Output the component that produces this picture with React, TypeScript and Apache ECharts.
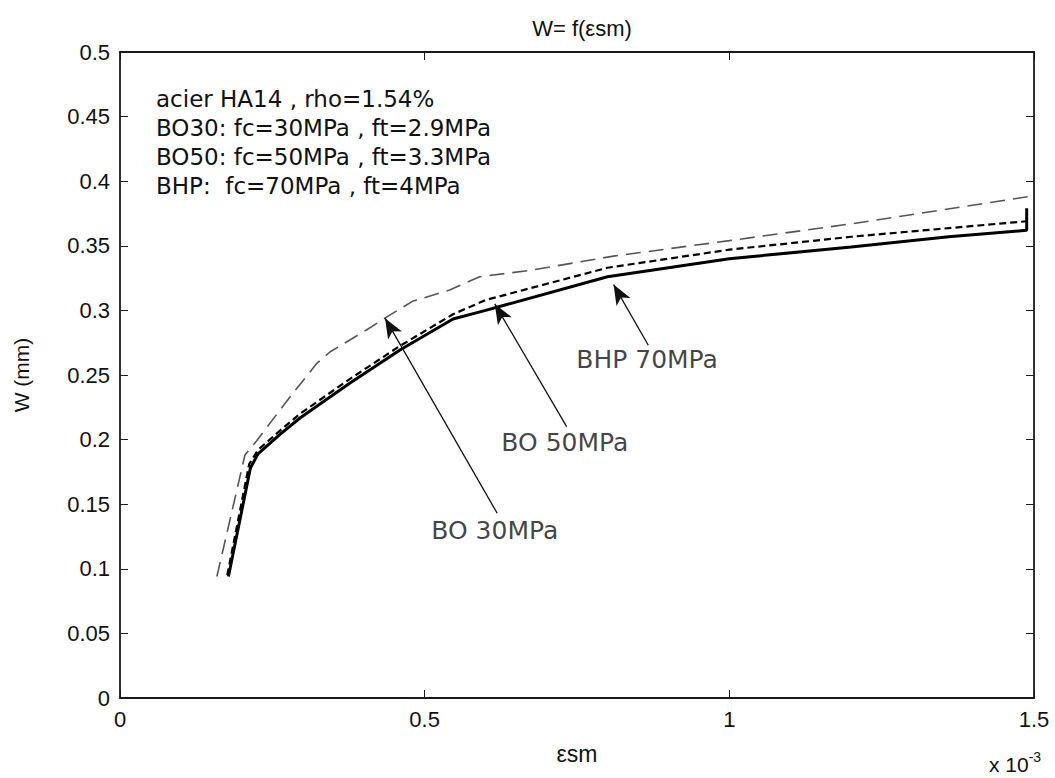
import React, { useEffect, useRef } from 'react';
import * as echarts from 'echarts';

// strain values are in units of 1e-3
const bo30X = [0.178, 0.214, 0.2265, 0.2626, 0.2954, 0.3775, 0.4595, 0.5465, 0.60, 0.80, 1.0, 1.2, 1.36, 1.488, 1.488];
const bo30Y = [0.094, 0.178, 0.189, 0.204, 0.2167, 0.2438, 0.2693, 0.2933, 0.300, 0.326, 0.340, 0.349, 0.357, 0.362, 0.379];

const bo50X = [0.176, 0.212, 0.2265, 0.2626, 0.2954, 0.3775, 0.4595, 0.5465, 0.60, 0.80, 1.0, 1.2, 1.488];
const bo50Y = [0.095, 0.181, 0.192, 0.207, 0.220, 0.247, 0.2725, 0.297, 0.308, 0.333, 0.347, 0.357, 0.369];

const bhpX = [0.159, 0.205, 0.224, 0.279, 0.323, 0.345, 0.405, 0.438, 0.48, 0.542, 0.59, 0.673, 0.81, 1.0, 1.2, 1.49];
const bhpY = [0.094, 0.188, 0.199, 0.233, 0.259, 0.268, 0.285, 0.295, 0.307, 0.316, 0.326, 0.331, 0.342, 0.354, 0.367, 0.388];

// annotation arrows: [fromX, fromY, tipX, tipY]
const arrowBO30 = [0.619, 0.143, 0.435, 0.294];
const arrowBO50 = [0.733, 0.210, 0.615, 0.305];
const arrowBHP = [0.867, 0.273, 0.81, 0.320];

const annotationLabels = ['BO 30MPa', 'BO 50MPa', 'BHP 70MPa'];
const annotationPos = [[0.615, 0.130], [0.730, 0.198], [0.865, 0.262]];

const infoLines = [
  'acier HA14 , rho=1.54%',
  'BO30: fc=30MPa , ft=2.9MPa',
  'BO50: fc=50MPa , ft=3.3MPa',
  'BHP:  fc=70MPa , ft=4MPa',
];

const titleText = 'W= f(εsm)';
const xName = 'εsm';
const yName = 'W (mm)';

const zip = (xs: number[], ys: number[]) => xs.map((x, i) => [x, ys[i]]);

const FONT = '"Liberation Sans", Arial, sans-serif';
const TFONT = '"DejaVu Sans", sans-serif';
const AX = '#1a1a1a';

export default function App() {
  const ref = useRef<HTMLDivElement>(null);
  useEffect(() => {
    if (!ref.current) return;
    const chart = echarts.init(ref.current, null, { renderer: 'svg' });
    const arrowData = [arrowBO30, arrowBO50, arrowBHP].map((a) => [
      { coord: [a[0], a[1]] },
      { coord: [a[2], a[3]] },
    ]);
    const axisCommonX = {
      type: 'value' as const,
      min: 0,
      max: 1.5,
      interval: 0.5,
      splitLine: { show: false },
      axisLine: { show: true, onZero: false, lineStyle: { color: AX, width: 1.8 } },
      axisTick: { show: true, inside: true, length: 8, lineStyle: { color: AX, width: 1 } },
    };
    const axisCommonY = {
      type: 'value' as const,
      min: 0,
      max: 0.5,
      interval: 0.05,
      splitLine: { show: false },
      axisLine: { show: true, onZero: false, lineStyle: { color: AX, width: 1.8 } },
      axisTick: { show: true, inside: true, length: 8, lineStyle: { color: AX, width: 1 } },
    };
    chart.setOption({
      animation: false,
      backgroundColor: '#fff',
      title: {
        text: titleText,
        left: 577,
        top: 12,
        textAlign: 'center',
        textStyle: { fontFamily: FONT, fontSize: 22, fontWeight: 'normal', color: '#111' },
      },
      grid: { left: 120, right: 21, top: 52, bottom: 80, containLabel: false },
      xAxis: [
        {
          ...axisCommonX,
          position: 'bottom',
          axisLabel: { fontFamily: FONT, fontSize: 22, color: '#111', margin: 10 },
          name: xName,
          nameLocation: 'middle',
          nameGap: 44,
          nameTextStyle: { fontFamily: FONT, fontSize: 23, color: '#111' },
        },
        { ...axisCommonX, position: 'top', axisLabel: { show: false } },
      ],
      yAxis: [
        {
          ...axisCommonY,
          position: 'left',
          axisLabel: { fontFamily: FONT, fontSize: 22, color: '#111', margin: 10 },
          name: yName,
          nameLocation: 'middle',
          nameGap: 88,
          nameRotate: 90,
          nameTextStyle: { fontFamily: FONT, fontSize: 21, color: '#111' },
        },
        { ...axisCommonY, position: 'right', axisLabel: { show: false } },
      ],
      graphic: [
        ...infoLines.map((t, i) => ({
          type: 'text',
          left: 156,
          top: 87 + i * 29,
          style: { text: t, fontFamily: TFONT, fontSize: 23, fill: '#111' },
        })),
        {
          type: 'text',
          left: 989,
          top: 750,
          style: {
            text: 'x 10{sup|-3}',
            fontFamily: FONT,
            fontSize: 21,
            fill: '#111',
            rich: { sup: { fontFamily: FONT, fontSize: 14, verticalAlign: 'top', padding: [0, 0, 14, 0] } },
          },
        },
      ],
      series: [
        {
          name: 'BHP',
          type: 'line',
          data: zip(bhpX, bhpY),
          symbol: 'none',
          lineStyle: { color: '#555', width: 1.6, type: [15, 8] },
        },
        {
          name: 'BO50',
          type: 'line',
          data: zip(bo50X, bo50Y),
          symbol: 'none',
          lineStyle: { color: '#000', width: 2.2, type: [7, 4] },
        },
        {
          name: 'BO30',
          type: 'line',
          data: zip(bo30X, bo30Y),
          symbol: 'none',
          lineStyle: { color: '#000', width: 3 },
          markLine: {
            silent: true,
            symbol: ['none', 'arrow'],
            symbolSize: [12, 20],
            label: { show: false },
            lineStyle: { color: '#111', width: 1.3, type: 'solid' },
            itemStyle: { color: '#111' },
            data: arrowData,
          },
        },
        {
          name: 'labels',
          type: 'scatter',
          symbolSize: 1,
          itemStyle: { color: 'rgba(0,0,0,0)' },
          data: annotationPos.map((p, i) => [p[0], p[1], annotationLabels[i]]),
          label: {
            show: true,
            position: 'inside',
            formatter: (p: any) => p.data[2],
            fontFamily: TFONT,
            fontSize: 25,
            color: '#111',
          },
        },
      ],
    });
    return () => chart.dispose();
  }, []);
  return (
    <div
      ref={ref}
      style={{ position: 'absolute', left: 0, top: 0, width: 1055, height: 778 }}
    />
  );
}
